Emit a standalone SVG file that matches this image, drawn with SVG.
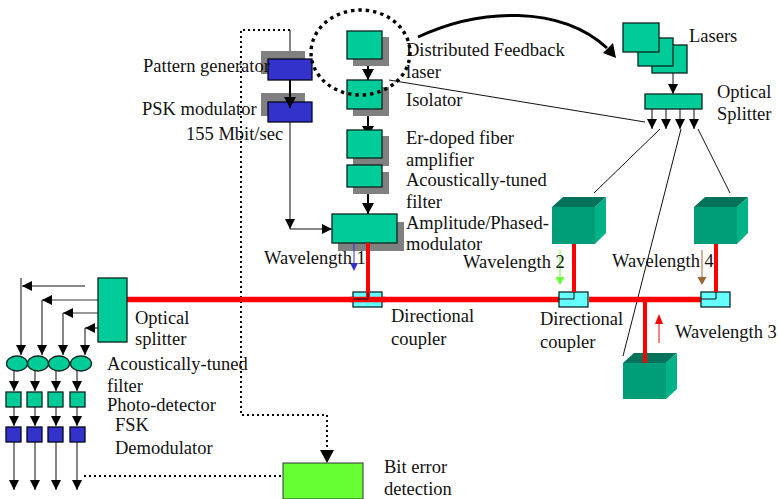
<svg xmlns="http://www.w3.org/2000/svg" width="778" height="499" viewBox="0 0 778 499">
<defs>
<marker id="a" markerUnits="userSpaceOnUse" markerWidth="11" markerHeight="10" refX="10" refY="5" orient="auto"><path d="M0,0L10,5L0,10Z" fill="#000"/></marker>
<marker id="b" markerUnits="userSpaceOnUse" markerWidth="12" markerHeight="12" refX="11" refY="6" orient="auto"><path d="M0,0L11,6L0,12Z" fill="#000"/></marker>
</defs>
<style>
text{font-family:"Liberation Serif","Times New Roman",serif;font-size:18.5px;fill:#111}
.t{fill:#00cc99;stroke:#06261e;stroke-width:1.3}
.u{fill:#3333cc;stroke:#06061e;stroke-width:1.3}
.s{fill:#808080}
.c{fill:#66ffff;stroke:#0b2a2a;stroke-width:1.3}
.l{fill:none;stroke:#111;stroke-width:1}
.g{fill:none;stroke:#333;stroke-width:1.2}
.h{fill:none;stroke:#000;stroke-width:2}
.r{fill:none;stroke:#ff0000;stroke-width:4}
.w{fill:none;stroke:#ff0000;stroke-width:5.500}
.d{fill:none;stroke:#000;stroke-width:2;stroke-dasharray:2 3}
.f{fill:#009e78}.o{fill:#00735a}.q{fill:#00b386}
</style>
<g id="connectors">
<path class="g" d="M290,30V59"/>
<path class="l" d="M389,80L645,122"/>
<path class="g" d="M290,122V229" marker-end="url(#a)"/>
<path class="l" d="M290,229H332" marker-end="url(#a)"/>
<path class="h" d="M368,59V80" marker-end="url(#b)"/>
<path class="h" d="M368,109V137" marker-end="url(#b)"/>
<path class="h" d="M368,193V214" marker-end="url(#b)"/>
<path class="g" d="M673,73V94" marker-end="url(#a)"/>
<path class="g" d="M652,109V129" marker-end="url(#a)"/>
<path class="g" d="M666,109V129" marker-end="url(#a)"/>
<path class="g" d="M680,109V129" marker-end="url(#a)"/>
<path class="g" d="M694,109V129" marker-end="url(#a)"/>
<path class="l" d="M594,193L660,129M681,129L623,356M698,129L730,193"/>
<path class="l" d="M85,286H22" marker-end="url(#a)"/>
<path class="g" d="M21,278V355" marker-end="url(#a)"/><path class="g" d="M42,300V355" marker-end="url(#a)"/><path class="g" d="M63,313V355" marker-end="url(#a)"/><path class="g" d="M85,328V355" marker-end="url(#a)"/>
<path class="g" d="M98,300H42" marker-end="url(#a)"/><path class="g" d="M98,313H63" marker-end="url(#a)"/><path class="g" d="M98,328H85" marker-end="url(#a)"/>
<g id="filter-links">
<path class="g" d="M14,370V391" marker-end="url(#a)"/><path class="g" d="M35,370V391" marker-end="url(#a)"/><path class="g" d="M56,370V391" marker-end="url(#a)"/><path class="g" d="M77,370V391" marker-end="url(#a)"/>
<path class="g" d="M14,407V426" marker-end="url(#a)"/><path class="g" d="M35,407V426" marker-end="url(#a)"/><path class="g" d="M56,407V426" marker-end="url(#a)"/><path class="g" d="M77,407V426" marker-end="url(#a)"/>
<path class="g" d="M14,442V490" marker-end="url(#a)"/><path class="g" d="M35,442V490" marker-end="url(#a)"/><path class="g" d="M56,442V490" marker-end="url(#a)"/><path class="g" d="M77,442V490" marker-end="url(#a)"/>
</g>
<path class="d" d="M84,476H282"/>
<path class="d" d="M290,30H241V415H327V452"/>
<path fill="#000" d="M320,450L334,450L327,463Z"/>
<path d="M418,37C480,8 560,5 607,48" fill="none" stroke="#000" stroke-width="3"/>
<path fill="#000" d="M603,53L613,43L616,58Z"/>
<path class="w" d="M127,299.500H559M589,299.500H701"/>
</g>
<g id="node-pattern-generator"><rect class="s" x="261" y="51" width="44" height="23"/><rect class="u" x="268" y="59" width="44" height="21"/><text x="143" y="72">Pattern generator</text></g>
<g id="node-psk-modulator"><rect class="s" x="261" y="93" width="44" height="23"/><rect class="u" x="268" y="102" width="44" height="20"/><text x="142" y="115">PSK modulator</text><text x="186" y="140">155 Mbit/sec</text></g>
<g id="node-dfb"><rect class="s" x="353" y="37" width="36" height="29"/><rect class="t" x="347" y="31" width="35" height="28"/><text x="406" y="56">Distributed Feedback</text><text x="406" y="78">laser</text></g>
<g id="node-isolator"><rect class="s" x="353" y="87" width="36" height="29"/><rect class="t" x="347" y="80" width="35" height="29"/><text x="406" y="106">Isolator</text></g>
<g id="node-amplifier"><rect class="s" x="353" y="136" width="36" height="30"/><rect class="t" x="347" y="130" width="35" height="28"/><text x="406" y="144">Er-doped fiber</text><text x="406" y="166">amplifier</text></g>
<g id="node-at-filter"><rect class="s" x="353" y="172" width="36" height="22"/><rect class="t" x="347" y="165" width="35" height="22"/><text x="406" y="186">Acoustically-tuned</text><text x="406" y="208">filter</text></g>
<g id="node-modulator"><rect class="s" x="338" y="222" width="66" height="29"/><rect class="t" x="332" y="214" width="65" height="29"/><text x="406" y="229">Amplitude/Phased-</text><text x="406" y="250">modulator</text></g>
<g id="node-lasers"><rect class="t" x="652" y="45" width="35" height="28"/><rect class="t" x="638" y="38" width="35" height="28"/><rect class="t" x="623" y="23" width="36" height="29"/><text x="689" y="42">Lasers</text></g>
<g id="node-optical-splitter-top"><rect class="t" x="645" y="94" width="57" height="15"/><text x="717" y="98">Optical</text><text x="717" y="120">Splitter</text></g>
<g id="node-cube-2"><path class="f" d="M552,207H595V244H552Z"/><path class="o" d="M552,207L563,197H606L595,207Z"/><path class="q" d="M595,207L606,197V233L595,244Z"/></g>
<g id="node-cube-4"><path class="f" d="M694,207H737V244H694Z"/><path class="o" d="M694,207L705,197H748L737,207Z"/><path class="q" d="M737,207L748,197V233L737,244Z"/></g>
<g id="node-cube-3"><path class="f" d="M623,363H666V399H623Z"/><path class="o" d="M623,363L634,353H677L666,363Z"/><path class="q" d="M666,363L677,353V389L666,399Z"/></g>
<g id="node-coupler-2"><rect class="c" x="559" y="292" width="29" height="15"/></g>
<g id="node-coupler-4"><rect class="c" x="701" y="292" width="29" height="15"/></g>
<g id="node-coupler-1"><rect class="c" x="353" y="292" width="29" height="15"/></g>
<g id="red-lines">
<path class="w" d="M350,299.500H385"/>
<path class="r" d="M368,243V298M574,244V292M716,244V292M645,300V363"/>
<path class="l" d="M353,299H368V292M559,299H574V292M701,299H716V292"/>
</g>
<g id="node-splitter-left"><rect class="t" x="98" y="278" width="29" height="64"/><text x="135" y="324">Optical</text><text x="135" y="345">splitter</text></g>
<g id="node-filters"><ellipse class="t" cx="17" cy="363.500" rx="10.500" ry="7.500"/><ellipse class="t" cx="38" cy="363.500" rx="10.500" ry="7.500"/><ellipse class="t" cx="59" cy="363.500" rx="10.500" ry="7.500"/><ellipse class="t" cx="81" cy="363.500" rx="10.500" ry="7.500"/><text x="107" y="370">Acoustically-tuned</text><text x="107" y="392">filter</text></g>
<g id="node-detectors"><rect class="t" x="6" y="392" width="15" height="15"/><rect class="t" x="27" y="392" width="15" height="15"/><rect class="t" x="48" y="392" width="15" height="15"/><rect class="t" x="70" y="392" width="15" height="15"/><text x="107" y="411">Photo-detector</text></g>
<g id="node-demodulators"><rect class="u" x="6" y="427" width="15" height="15"/><rect class="u" x="27" y="427" width="15" height="15"/><rect class="u" x="48" y="427" width="15" height="15"/><rect class="u" x="70" y="427" width="15" height="15"/><text x="115" y="431">FSK</text><text x="115" y="454">Demodulator</text></g>
<g id="node-ber"><rect x="283" y="463" width="80" height="36" fill="#66ff33" stroke="#333" stroke-width="1"/><text x="384" y="473">Bit error</text><text x="384" y="495">detection</text></g>
<g id="labels">
<path d="M354,243V264" stroke="#3333cc" fill="none"/><path fill="#3333cc" d="M350,263H358L354,271Z"/>
<path d="M560,250V278" stroke="#66ff33" fill="none"/><path fill="#66ff33" d="M555.500,277H564.500L560,285Z"/>
<path d="M702,250V278" stroke="#996633" fill="none"/><path fill="#996633" d="M697.500,277H706.500L702,285Z"/>
<path d="M659,343V323" stroke="#ff0000" fill="none"/><path fill="#ff0000" d="M655,324H663L659,314Z"/>
<text x="264" y="264">Wavelength 1</text><text x="463" y="268">Wavelength 2</text><text x="612" y="267">Wavelength 4</text><text x="675" y="338">Wavelength 3</text>
<text x="391" y="322">Directional</text><text x="391" y="345">coupler</text><text x="540" y="325">Directional</text><text x="540" y="348">coupler</text>
</g>
<path id="pg-arrow" class="h" d="M290,80V108" marker-end="url(#b)"/>
<ellipse id="dotted-ring" cx="360.500" cy="52.500" rx="49.500" ry="42.500" fill="none" stroke="#000" stroke-width="3.400" stroke-dasharray="3.400 4"/>
</svg>
